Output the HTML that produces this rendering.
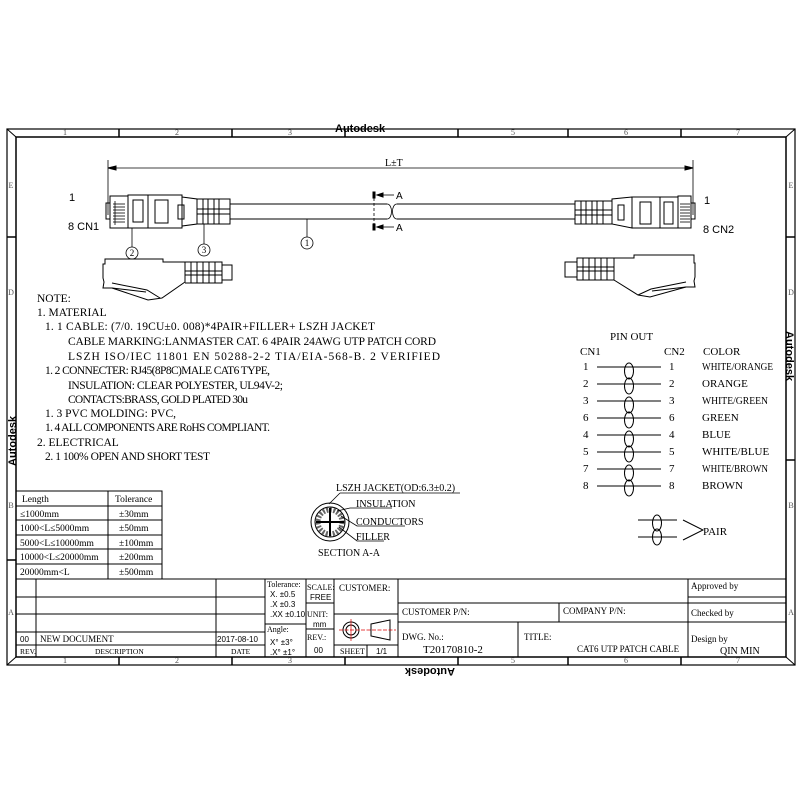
<!DOCTYPE html>
<html><head><meta charset="utf-8"><style>html,body{margin:0;padding:0;background:#fff}svg{display:block}</style></head>
<body>
<svg width="800" height="800" viewBox="0 0 800 800" xmlns="http://www.w3.org/2000/svg" font-family="Liberation Serif, serif" fill="none" stroke="#000">
<rect x="0" y="0" width="800" height="800" fill="#fff" stroke="none"/>
<!-- frame -->
<rect x="7" y="129" width="788" height="536" stroke-width="1.2"/>
<rect x="16" y="137" width="770" height="520" stroke-width="1.5"/>
<line x1="7" y1="129" x2="16" y2="137"/><line x1="795" y1="129" x2="786" y2="137"/>
<line x1="7" y1="665" x2="16" y2="657"/><line x1="795" y1="665" x2="786" y2="657"/>
<g stroke-width="1.5">
<line x1="119" y1="129" x2="119" y2="137"/><line x1="232" y1="129" x2="232" y2="137"/><line x1="345" y1="129" x2="345" y2="137"/><line x1="458" y1="129" x2="458" y2="137"/><line x1="568" y1="129" x2="568" y2="137"/><line x1="681" y1="129" x2="681" y2="137"/>
<line x1="119" y1="657" x2="119" y2="665"/><line x1="232" y1="657" x2="232" y2="665"/><line x1="345" y1="657" x2="345" y2="665"/><line x1="458" y1="657" x2="458" y2="665"/><line x1="568" y1="657" x2="568" y2="665"/><line x1="681" y1="657" x2="681" y2="665"/>
<line x1="7" y1="237" x2="16" y2="237"/><line x1="7" y1="560" x2="16" y2="560"/>
<line x1="786" y1="237" x2="795" y2="237"/><line x1="786" y1="460" x2="795" y2="460"/>
</g>
<g fill="#555" stroke="none" font-size="8" text-anchor="middle">
<text x="65" y="135">1</text><text x="177" y="135">2</text><text x="290" y="135">3</text><text x="513" y="135">5</text><text x="626" y="135">6</text><text x="738" y="135">7</text>
<text x="65" y="663">1</text><text x="177" y="663">2</text><text x="290" y="663">3</text><text x="513" y="663">5</text><text x="626" y="663">6</text><text x="738" y="663">7</text>
<text x="11" y="188">E</text><text x="11" y="295">D</text><text x="11" y="508">B</text><text x="11" y="615">A</text>
<text x="791" y="188">E</text><text x="791" y="295">D</text><text x="791" y="508">B</text><text x="791" y="615">A</text>
</g>
<g fill="#000" stroke="none" font-family="Liberation Sans, sans-serif" font-weight="bold" font-size="11">
<text x="335" y="132">Autodesk</text>
<text x="0" y="0" transform="translate(455,668) rotate(180)">Autodesk</text>
<text x="0" y="0" transform="translate(16,466) rotate(-90)">Autodesk</text>
<text x="0" y="0" transform="translate(786,331) rotate(90)">Autodesk</text>
</g>

<!-- dimension -->
<line x1="108" y1="160" x2="108" y2="215" stroke-width="0.8"/>
<line x1="693" y1="160" x2="693" y2="215" stroke-width="0.8"/>
<line x1="110" y1="168" x2="691" y2="168" stroke-width="0.8"/>
<path d="M108 168 l8 -2 v4z M693 168 l-8 -2 v4z" fill="#000"/>
<text x="385" y="166" fill="#000" stroke="none" font-size="10">L±T</text>
<g fill="#000" stroke="none" font-family="Liberation Sans, sans-serif" font-size="11">
<text x="69" y="201">1</text><text x="68" y="230">8 CN1</text>
<text x="704" y="204">1</text><text x="703" y="233">8 CN2</text>
</g>

<!-- left connector -->
<g stroke-width="1">
<rect x="106" y="203" width="4" height="16"/>
<rect x="110" y="196" width="18" height="32"/>
<g stroke-width="0.8"><line x1="113" y1="204" x2="125" y2="204"/><line x1="113" y1="207" x2="125" y2="207"/><line x1="113" y1="210" x2="125" y2="210"/><line x1="113" y1="213" x2="125" y2="213"/><line x1="113" y1="216" x2="125" y2="216"/><line x1="113" y1="219" x2="125" y2="219"/><line x1="113" y1="222" x2="125" y2="222"/><line x1="115" y1="201" x2="115" y2="225"/></g>
<rect x="128" y="195" width="20" height="33"/><rect x="133" y="200" width="10" height="22"/>
<rect x="148" y="195" width="34" height="33"/><rect x="155" y="200" width="13" height="23"/>
<path d="M182 197 L197 199 V224 L182 226Z"/><rect x="178" y="205" width="6" height="14"/>
<path d="M197 199 H230 V224 H197Z"/>
<line x1="203" y1="199" x2="203" y2="224"/><line x1="208" y1="199" x2="208" y2="224"/><line x1="214" y1="199" x2="214" y2="224"/><line x1="219" y1="199" x2="219" y2="224"/>
<line x1="197" y1="209" x2="230" y2="209"/><line x1="197" y1="214" x2="230" y2="214"/>
</g>
<!-- cable -->
<line x1="230" y1="204" x2="387" y2="204"/><line x1="230" y1="219" x2="387" y2="219"/>
<line x1="397" y1="204" x2="575" y2="204"/><line x1="397" y1="219" x2="575" y2="219"/>
<path d="M387 204 c6 0 6 15 0 15 M397 204 c-6 0 -6 15 0 15" stroke-width="0.8"/>
<line x1="374" y1="193" x2="374" y2="230" stroke-dasharray="3,2" stroke-width="0.8"/>
<path d="M373 192 h2 v6 h-2z M373 224 h2 v6 h-2z" fill="#000"/>
<line x1="378" y1="195" x2="394" y2="195" stroke-width="0.8"/><line x1="378" y1="227" x2="394" y2="227" stroke-width="0.8"/>
<path d="M377 195 l6 -2 v4z M377 227 l6 -2 v4z" fill="#000"/>
<text x="396" y="199" fill="#000" stroke="none" font-family="Liberation Sans, sans-serif" font-size="10">A</text>
<text x="396" y="231" fill="#000" stroke="none" font-family="Liberation Sans, sans-serif" font-size="10">A</text>
<!-- right connector -->
<g stroke-width="1">
<rect x="691" y="203" width="4" height="16"/>
<rect x="678" y="196" width="13" height="32"/>
<g stroke-width="0.8"><line x1="680" y1="204" x2="690" y2="204"/><line x1="680" y1="207" x2="690" y2="207"/><line x1="680" y1="210" x2="690" y2="210"/><line x1="680" y1="213" x2="690" y2="213"/><line x1="680" y1="216" x2="690" y2="216"/><line x1="680" y1="219" x2="690" y2="219"/><line x1="680" y1="222" x2="690" y2="222"/></g>
<rect x="660" y="197" width="18" height="31"/><rect x="664" y="202" width="9" height="22"/>
<rect x="632" y="197" width="28" height="31"/><rect x="640" y="202" width="11" height="22"/>
<path d="M632 197 L612 199 V224 L632 228Z"/><rect x="618" y="205" width="6" height="15"/>
<path d="M575 201 H612 V224 H575Z"/>
<line x1="581" y1="201" x2="581" y2="224"/><line x1="586" y1="201" x2="586" y2="224"/><line x1="592" y1="201" x2="592" y2="224"/><line x1="597" y1="201" x2="597" y2="224"/><line x1="603" y1="201" x2="603" y2="224"/>
<line x1="575" y1="210" x2="612" y2="210"/><line x1="575" y1="215" x2="612" y2="215"/>
</g>
<!-- balloons -->
<g stroke-width="0.8">
<line x1="132" y1="228" x2="132" y2="247"/><circle cx="132" cy="253" r="6"/>
<line x1="204" y1="224" x2="204" y2="244"/><circle cx="204" cy="250" r="6"/>
<line x1="307" y1="219" x2="307" y2="237"/><circle cx="307" cy="243" r="6"/>
</g>
<g fill="#000" stroke="none" font-size="9" text-anchor="middle"><text x="132" y="256">2</text><text x="204" y="253">3</text><text x="307" y="246">1</text></g>
<!-- side views -->
<g stroke-width="1">
<path d="M105 264 L103 264 L103 278 L104 282 L103 288 L112 288 L148 300 L162 298 L185 282 L185 262 L163 262 L163 259 L105 259Z"/>
<path d="M112 283 L147 290 L160 298 M112 288 L146 292"/>
<path d="M185 262 H222 V283 H185"/><rect x="222" y="265" width="10" height="15"/>
<line x1="191" y1="262" x2="191" y2="283"/><line x1="197" y1="262" x2="197" y2="283"/><line x1="203" y1="262" x2="203" y2="283"/><line x1="209" y1="262" x2="209" y2="283"/><line x1="215" y1="262" x2="215" y2="283"/>
<line x1="185" y1="271" x2="222" y2="271"/><line x1="185" y1="275" x2="222" y2="275"/>
<path d="M694 263 L695 263 L695 277 L694 281 L695 287 L686 287 L650 297 L638 295 L614 280 L614 258 L634 258 L634 255 L694 255Z"/>
<path d="M686 282 L651 289 L638 295 M686 287 L652 291"/>
<path d="M614 258 H577 V280 H614"/><rect x="565" y="262" width="12" height="15"/>
<line x1="583" y1="258" x2="583" y2="280"/><line x1="589" y1="258" x2="589" y2="280"/><line x1="595" y1="258" x2="595" y2="280"/><line x1="601" y1="258" x2="601" y2="280"/><line x1="607" y1="258" x2="607" y2="280"/>
<line x1="577" y1="267" x2="614" y2="267"/><line x1="577" y1="271" x2="614" y2="271"/>
</g>

<!-- notes -->
<g fill="#000" stroke="none" font-size="11.5">
<text x="37" y="302">NOTE:</text>
<text x="37" y="316">1. MATERIAL</text>
<text x="45" y="330" textLength="330">1. 1 CABLE:  (7/0. 19CU±0. 008)*4PAIR+FILLER+ LSZH JACKET</text>
<text x="68" y="345" textLength="368">CABLE MARKING:LANMASTER  CAT. 6  4PAIR  24AWG  UTP  PATCH CORD</text>
<text x="68" y="360" textLength="372">LSZH  ISO/IEC  11801  EN  50288-2-2  TIA/EIA-568-B. 2  VERIFIED</text>
<text x="45" y="374" textLength="225">1. 2 CONNECTER: RJ45(8P8C)MALE CAT6 TYPE,</text>
<text x="68" y="389" textLength="215">INSULATION: CLEAR POLYESTER, UL94V-2;</text>
<text x="68" y="403" textLength="180">CONTACTS:BRASS, GOLD PLATED 30u</text>
<text x="45" y="417">1. 3 PVC MOLDING:  PVC,</text>
<text x="45" y="431" textLength="225">1. 4 ALL COMPONENTS ARE RoHS COMPLIANT.</text>
<text x="37" y="446">2.  ELECTRICAL</text>
<text x="45" y="460" textLength="165">2. 1 100% OPEN AND SHORT TEST</text>
</g>

<!-- pinout -->
<g fill="#000" stroke="none" font-size="11">
<text x="610" y="340">PIN OUT</text>
<text x="580" y="355">CN1</text><text x="664" y="355">CN2</text><text x="703" y="355">COLOR</text>
<text x="583" y="370">1</text><text x="669" y="370">1</text><text x="702" y="370" textLength="71" lengthAdjust="spacingAndGlyphs">WHITE/ORANGE</text>
<text x="583" y="387">2</text><text x="669" y="387">2</text><text x="702" y="387">ORANGE</text>
<text x="583" y="404">3</text><text x="669" y="404">3</text><text x="702" y="404" textLength="66" lengthAdjust="spacingAndGlyphs">WHITE/GREEN</text>
<text x="583" y="421">6</text><text x="669" y="421">6</text><text x="702" y="421">GREEN</text>
<text x="583" y="438">4</text><text x="669" y="438">4</text><text x="702" y="438">BLUE</text>
<text x="583" y="455">5</text><text x="669" y="455">5</text><text x="702" y="455">WHITE/BLUE</text>
<text x="583" y="472">7</text><text x="669" y="472">7</text><text x="702" y="472" textLength="66" lengthAdjust="spacingAndGlyphs">WHITE/BROWN</text>
<text x="583" y="489">8</text><text x="669" y="489">8</text><text x="702" y="489">BROWN</text>
<text x="703" y="535">PAIR</text>
</g>
<g stroke-width="1">
<line x1="597" y1="367" x2="661" y2="367"/><line x1="597" y1="384" x2="661" y2="384"/>
<line x1="597" y1="401" x2="661" y2="401"/><line x1="597" y1="418" x2="661" y2="418"/>
<line x1="597" y1="435" x2="661" y2="435"/><line x1="597" y1="452" x2="661" y2="452"/>
<line x1="597" y1="469" x2="661" y2="469"/><line x1="597" y1="486" x2="661" y2="486"/>
<ellipse cx="629" cy="371" rx="4.5" ry="8"/><ellipse cx="629" cy="386" rx="4.5" ry="8"/>
<ellipse cx="629" cy="405" rx="4.5" ry="8"/><ellipse cx="629" cy="420" rx="4.5" ry="8"/>
<ellipse cx="629" cy="439" rx="4.5" ry="8"/><ellipse cx="629" cy="454" rx="4.5" ry="8"/>
<ellipse cx="629" cy="473" rx="4.5" ry="8"/><ellipse cx="629" cy="488" rx="4.5" ry="8"/>
<line x1="638" y1="520" x2="677" y2="520"/><line x1="638" y1="537" x2="677" y2="537"/>
<ellipse cx="657" cy="523" rx="4.5" ry="8"/><ellipse cx="657" cy="537" rx="4.5" ry="8"/>
<path d="M683 520 L703 530 L683 540"/>
</g>

<!-- section -->
<g stroke-width="1">
<circle cx="330" cy="522" r="19"/><circle cx="330" cy="522" r="15"/>
<circle cx="330" cy="522" r="12" stroke="#666" stroke-width="5" stroke-dasharray="2,1.5"/>
<line x1="316" y1="522" x2="344" y2="522" stroke-width="2"/><line x1="330" y1="508" x2="330" y2="536" stroke-width="2"/>
<line x1="329" y1="504" x2="340" y2="493" stroke-width="0.8"/><line x1="340" y1="493" x2="460" y2="493" stroke-width="0.8"/>
<path d="M337 511 L350 508 H392 M341 516 L357 526 H405 M339 527 L357 541 H384" stroke-width="0.8"/>
</g>
<g fill="#000" stroke="none" font-size="10">
<text x="336" y="491">LSZH JACKET(OD:6.3±0.2)</text>
<text x="356" y="507">INSULATION</text>
<text x="356" y="525">CONDUCTORS</text>
<text x="356" y="540">FILLER</text>
<text x="318" y="556">SECTION A-A</text>
</g>

<!-- tolerance table -->
<g stroke-width="1">
<rect x="16" y="491" width="146" height="88"/>
<line x1="108" y1="491" x2="108" y2="579"/>
<line x1="16" y1="506" x2="162" y2="506"/><line x1="16" y1="520" x2="162" y2="520"/><line x1="16" y1="535" x2="162" y2="535"/><line x1="16" y1="549" x2="162" y2="549"/><line x1="16" y1="564" x2="162" y2="564"/>
</g>
<g fill="#000" stroke="none" font-size="9.5">
<text x="22" y="502">Length</text><text x="115" y="502">Tolerance</text>
<text x="20" y="517">≤1000mm</text><text x="119" y="517">±30mm</text>
<text x="20" y="531">1000&lt;L≤5000mm</text><text x="119" y="531">±50mm</text>
<text x="20" y="546">5000&lt;L≤10000mm</text><text x="119" y="546">±100mm</text>
<text x="20" y="560">10000&lt;L≤20000mm</text><text x="119" y="560">±200mm</text>
<text x="20" y="575">20000mm&lt;L</text><text x="119" y="575">±500mm</text>
</g>

<!-- title block -->
<g stroke-width="1">
<line x1="16" y1="579" x2="786" y2="579"/>
<line x1="16" y1="597" x2="265" y2="597"/><line x1="16" y1="614" x2="265" y2="614"/><line x1="16" y1="632" x2="265" y2="632"/><line x1="16" y1="645" x2="265" y2="645"/>
<line x1="36" y1="579" x2="36" y2="657"/><line x1="216" y1="579" x2="216" y2="657"/>
<line x1="265" y1="579" x2="265" y2="657"/><line x1="306" y1="579" x2="306" y2="657"/><line x1="334" y1="579" x2="334" y2="657"/>
<line x1="265" y1="624" x2="306" y2="624"/>
<line x1="306" y1="603" x2="334" y2="603"/><line x1="306" y1="629" x2="334" y2="629"/>
<line x1="334" y1="614" x2="398" y2="614"/><line x1="334" y1="645" x2="398" y2="645"/>
<line x1="398" y1="579" x2="398" y2="657"/><line x1="367" y1="645" x2="367" y2="657"/>
<line x1="398" y1="603" x2="786" y2="603"/><line x1="398" y1="622" x2="786" y2="622"/>
<line x1="688" y1="579" x2="688" y2="657"/>
<line x1="559" y1="603" x2="559" y2="622"/><line x1="518" y1="622" x2="518" y2="657"/>
<line x1="688" y1="597" x2="786" y2="597"/>
<circle cx="351" cy="630" r="8"/><circle cx="351" cy="630" r="5"/>
<path d="M371 624 L390 620 V640 L371 636Z"/>
<line x1="339" y1="630" x2="396" y2="630" stroke="#d00" stroke-width="0.7" stroke-dasharray="4,1.5"/>
<line x1="351" y1="619" x2="351" y2="641" stroke="#d00" stroke-width="0.7"/>
</g>
<g fill="#000" stroke="none" font-size="9">
<text x="267" y="587" font-size="8">Tolerance:</text>
<text x="270" y="597" font-family="Liberation Sans, sans-serif" font-size="8">X.   ±0.5</text>
<text x="270" y="607" font-family="Liberation Sans, sans-serif" font-size="8">.X   ±0.3</text>
<text x="270" y="617" font-family="Liberation Sans, sans-serif" font-size="8">.XX ±0.10</text>
<text x="267" y="632" font-size="8">Angle:</text>
<text x="270" y="645" font-family="Liberation Sans, sans-serif" font-size="8">X°   ±3°</text>
<text x="270" y="655" font-family="Liberation Sans, sans-serif" font-size="8">.X°   ±1°</text>
<text x="307" y="590" font-size="8">SCALE:</text>
<text x="310" y="600" font-family="Liberation Sans, sans-serif" font-size="8">FREE</text>
<text x="307" y="617" font-size="8">UNIT:</text>
<text x="313" y="627" font-family="Liberation Sans, sans-serif" font-size="8">mm</text>
<text x="307" y="640" font-size="8">REV.:</text>
<text x="314" y="653" font-family="Liberation Sans, sans-serif" font-size="8">00</text>
<text x="339" y="591">CUSTOMER:</text>
<text x="340" y="654" font-size="8">SHEET</text>
<text x="376" y="654" font-family="Liberation Sans, sans-serif" font-size="8">1/1</text>
<text x="20" y="642" font-family="Liberation Sans, sans-serif" font-size="8">00</text>
<text x="40" y="642">NEW DOCUMENT</text>
<text x="217" y="642" font-family="Liberation Sans, sans-serif" font-size="8">2017-08-10</text>
<text x="20" y="654" font-size="7.5">REV.</text>
<text x="95" y="654" font-size="7.5">DESCRIPTION</text>
<text x="231" y="654" font-size="7.5">DATE</text>
<text x="402" y="615">CUSTOMER P/N:</text>
<text x="563" y="614">COMPANY P/N:</text>
<text x="402" y="640">DWG. No.:</text>
<text x="423" y="653" font-size="11">T20170810-2</text>
<text x="524" y="640">TITLE:</text>
<text x="577" y="652">CAT6 UTP PATCH CABLE</text>
<text x="691" y="589">Approved by</text>
<text x="691" y="616">Checked by</text>
<text x="691" y="642">Design by</text>
<text x="720" y="654" font-size="10">QIN MIN</text>
</g>
</svg>
</body></html>
